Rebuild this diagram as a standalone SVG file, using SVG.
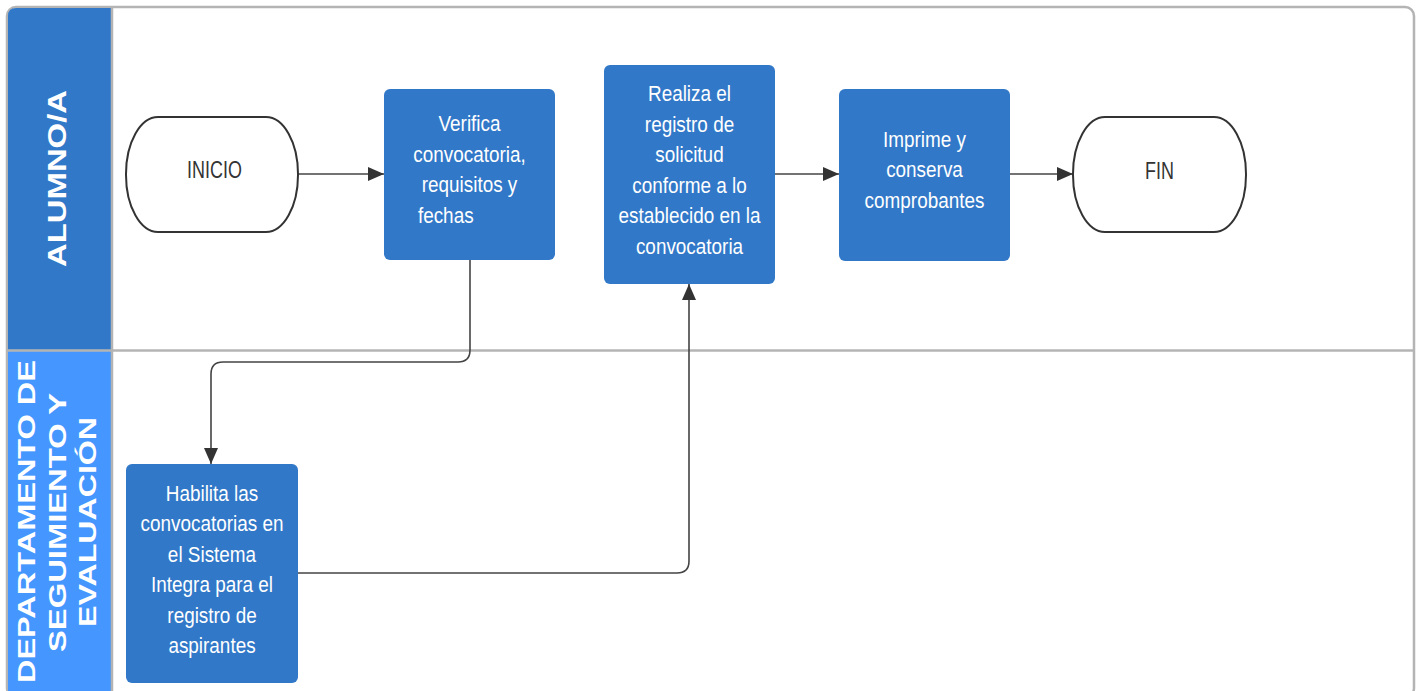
<svg xmlns="http://www.w3.org/2000/svg" width="1421" height="691" viewBox="0 0 1421 691">
<style>
.frame{fill:#ffffff;stroke:#b4b4b4;stroke-width:2.5}
.div{stroke:#b4b4b4;stroke-width:2.5;fill:none}
.proc{fill:#3178c8}
.term{fill:#ffffff;stroke:#333333;stroke-width:2}
.t{font-family:"Liberation Sans",Arial,sans-serif;font-size:22px;fill:#ffffff;text-anchor:middle}
.tt{font-family:"Liberation Sans",Arial,sans-serif;font-size:23px;fill:#333333;text-anchor:middle}
.h{font-family:"Liberation Sans",Arial,sans-serif;font-weight:bold;fill:#ffffff;text-anchor:middle}
.conn{fill:none;stroke:#444444;stroke-width:1.6}
</style>
<defs>
<marker id="arr" markerUnits="userSpaceOnUse" markerWidth="17" markerHeight="14" refX="16" refY="7" orient="auto">
<path d="M0,0 L16,7 L0,14 Z" fill="#333333"/>
</marker>
</defs>
<rect x="0" y="0" width="1421" height="691" fill="#ffffff"/>
<g id="pool">
<rect class="frame" x="7" y="7" width="1407" height="690" rx="9"/>
<path d="M16,8 H112 V350 H8 V16 Q8,8 16,8 Z" fill="#3178c8"/>
<path d="M8,351 H112 V697 H8 Z" fill="#4597ff"/>
<line class="div" x1="112" y1="7" x2="112" y2="691"/>
<line class="div" x1="7" y1="350.5" x2="1414" y2="350.5"/>
</g>
<g id="lane-alumno">
<text class="h" font-size="26" transform="translate(66,178.5) rotate(-90)" textLength="177" lengthAdjust="spacingAndGlyphs">ALUMNO/A</text>
</g>
<g id="lane-departamento">
<text class="h" font-size="24" transform="translate(35,521.5) rotate(-90)" textLength="323" lengthAdjust="spacingAndGlyphs">DEPARTAMENTO DE</text>
<text class="h" font-size="24" transform="translate(65.5,522.5) rotate(-90)" textLength="259" lengthAdjust="spacingAndGlyphs">SEGUIMIENTO Y</text>
<text class="h" font-size="24" transform="translate(96,522) rotate(-90)" textLength="210" lengthAdjust="spacingAndGlyphs">EVALUACIÓN</text>
</g>
<g id="connectors">
<line class="conn" x1="298" y1="174" x2="384" y2="174" marker-end="url(#arr)"/>
<line class="conn" x1="775" y1="174" x2="839" y2="174" marker-end="url(#arr)"/>
<line class="conn" x1="1010" y1="174" x2="1073" y2="174" marker-end="url(#arr)"/>
<path class="conn" d="M470,260 V350 Q470,362 458,362 H223 Q211,362 211,374 V464" marker-end="url(#arr)"/>
<path class="conn" d="M298,573 H677 Q689,573 689,561 V284" marker-end="url(#arr)"/>
</g>
<g id="inicio">
<rect class="term" x="126" y="117" width="172" height="115" rx="32" ry="57"/>
<g transform="translate(214.5,0) scale(0.78,1)"><text class="tt" x="0" y="178.5">INICIO</text></g>
</g>
<g id="verifica">
<rect class="proc" x="384" y="89" width="171" height="171" rx="6"/>
<g transform="translate(469.5,0) scale(0.86,1)">
<text class="t" x="0" y="131.5">Verifica</text>
<text class="t" x="0" y="162">convocatoria,</text>
<text class="t" x="0" y="192.5">requisitos y</text>
<text class="t" x="-60" y="223" style="text-anchor:start">fechas</text>
</g>
</g>
<g id="realiza">
<rect class="proc" x="604" y="65" width="171" height="219" rx="6"/>
<g transform="translate(689.5,0) scale(0.86,1)">
<text class="t" x="0" y="101.5">Realiza el</text>
<text class="t" x="0" y="132">registro de</text>
<text class="t" x="0" y="162.5">solicitud</text>
<text class="t" x="0" y="193">conforme a lo</text>
<text class="t" x="0" y="223.5">establecido en la</text>
<text class="t" x="0" y="254">convocatoria</text>
</g>
</g>
<g id="imprime">
<rect class="proc" x="839" y="89" width="171" height="172" rx="6"/>
<g transform="translate(924.5,0) scale(0.86,1)">
<text class="t" x="0" y="147">Imprime y</text>
<text class="t" x="0" y="177.5">conserva</text>
<text class="t" x="0" y="208">comprobantes</text>
</g>
</g>
<g id="fin">
<rect class="term" x="1073" y="117" width="173" height="115" rx="32" ry="57"/>
<g transform="translate(1159.5,0) scale(0.78,1)"><text class="tt" x="0" y="179">FIN</text></g>
</g>
<g id="habilita">
<rect class="proc" x="126" y="464" width="172" height="219" rx="6"/>
<g transform="translate(212,0) scale(0.86,1)">
<text class="t" x="0" y="501">Habilita las</text>
<text class="t" x="0" y="531.5">convocatorias en</text>
<text class="t" x="0" y="562">el Sistema</text>
<text class="t" x="0" y="592.5">Integra para el</text>
<text class="t" x="0" y="623">registro de</text>
<text class="t" x="0" y="653.5">aspirantes</text>
</g>
</g>
</svg>
